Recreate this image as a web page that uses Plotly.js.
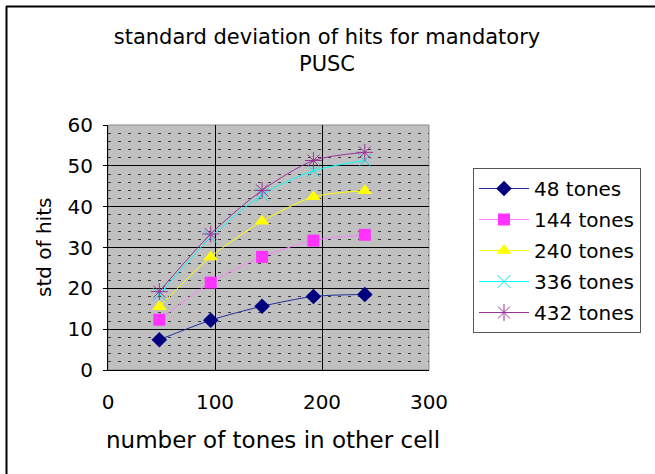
<!DOCTYPE html>
<html>
<head>
<meta charset="utf-8">
<script src="https://cdn.plot.ly/plotly-3.0.1.min.js"></script>
<style>
html,body{margin:0;padding:0;background:#fff;}
#chart{width:655px;height:474px;}
</style>
</head>
<body>
<div id="chart"></div>
<script>
// Data
var otherCellTones = [48, 96, 144, 192, 240];
var seriesNames = ["48 tones", "144 tones", "240 tones", "336 tones", "432 tones"];
var std48  = [7.4, 12.2, 15.6, 18.0, 18.5];
var std144 = [12.3, 21.4, 27.7, 31.7, 33.1];
var std240 = [15.5, 27.7, 36.4, 42.4, 43.9];
var std336 = [18.5, 32.5, 42.9, 48.8, 51.3];
var std432 = [19.2, 33.3, 44.0, 51.3, 53.3];
var xTicks = [0, 100, 200, 300];
var yTicks = [0, 10, 20, 30, 40, 50, 60];

var FONT = "DejaVu Sans, Liberation Sans, sans-serif";

var styles = [
  {line: "#1f2f9a", marker: {symbol: "diamond", size: 12, color: "#000080"}},
  {line: "#ff80ff", marker: {symbol: "square", size: 12, color: "#ff33ff"}},
  {line: "#ffff00", marker: {symbol: "triangle-up", size: 13, color: "#ffff00"}},
  {line: "#00ffff", marker: {symbol: "x-thin-open", size: 13, color: "#00e5e5", line: {width: 1, color: "#00e5e5"}}},
  {line: "#993399", marker: {symbol: "asterisk-open", size: 14, color: "#993399", line: {width: 1, color: "#993399"}}}
];
var values = [std48, std144, std240, std336, std432];

var traces = values.map(function (v, i) {
  return {
    type: "scatter",
    mode: "lines+markers",
    x: otherCellTones,
    y: v,
    name: seriesNames[i],
    legendgroup: "g" + i,
    line: {color: styles[i].line, width: 1, shape: "spline", smoothing: 0.8},
    marker: styles[i].marker
  };
});

// plot area in px: left 108, right 429, top 125, bottom 370
var L = 108, R = 429, T = 125, B = 370;
function px(x) { return (x - L) / (R - L); }
function py(y) { return (B - y) / (B - T); }

var layout = {
  width: 655,
  height: 474,
  margin: {l: L, r: 655 - R, t: T, b: 474 - B, pad: 0, autoexpand: false},
  paper_bgcolor: "#ffffff",
  plot_bgcolor: "#c0c0c0",
  font: {family: FONT, size: 20, color: "#000"},
  showlegend: true,
  title: {
    text: "standard deviation of hits for mandatory<br>PUSC",
    font: {family: FONT, size: 21, color: "#000"},
    x: 327 / 655, xref: "container", xanchor: "center",
    y: 0.907, yref: "container", yanchor: "top"
  },
  xaxis: {
    range: [0, 300],
    tickvals: xTicks,
    showgrid: true, gridcolor: "#000", gridwidth: 1,
    zeroline: false,
    showline: true, linecolor: "#000", linewidth: 1,
    ticks: "", ticklabelstandoff: 14,
    tickfont: {family: FONT, size: 20, color: "#000"},
    fixedrange: true
  },
  yaxis: {
    range: [0, 60],
    tickvals: yTicks,
    showgrid: true, gridcolor: "#000", gridwidth: 1,
    zeroline: false,
    showline: true, linecolor: "#000", linewidth: 1,
    ticks: "outside", ticklen: 4, tickcolor: "#000",
    ticklabelstandoff: 6,
    tickfont: {family: FONT, size: 20, color: "#000"},
    minor: {dtick: 2, showgrid: true, gridcolor: "#3a3a3a", gridwidth: 1, griddash: "3px,7px"},
    fixedrange: true
  },
  legend: {
    x: px(473), y: py(168), xanchor: "left", yanchor: "top",
    xref: "paper", yref: "paper",
    bgcolor: "#fff", bordercolor: "#555", borderwidth: 1,
    itemwidth: 50, tracegroupgap: 2,
    font: {family: FONT, size: 20, color: "#000"}
  },
  annotations: [
    {text: "std of hits", textangle: -90, showarrow: false,
     xref: "paper", yref: "paper", x: px(44), y: py(248), xanchor: "center", yanchor: "middle",
     font: {family: FONT, size: 20, color: "#000"}},
    {text: "number of tones in other cell", showarrow: false,
     xref: "paper", yref: "paper", x: px(273), y: py(440), xanchor: "center", yanchor: "middle",
     font: {family: FONT, size: 23, color: "#000"}}
  ],
  shapes: [
    {type: "rect", xref: "paper", yref: "paper", x0: 0, x1: 1, y0: 0, y1: 1,
     line: {color: "#8a8a8a", width: 1}, layer: "below"},
    {type: "line", xref: "paper", yref: "paper", x0: px(6.5), x1: px(6.5), y0: py(6), y1: py(480),
     line: {color: "#000", width: 2}},
    {type: "line", xref: "paper", yref: "paper", x0: px(6), x1: px(700), y0: py(6.5), y1: py(6.5),
     line: {color: "#000", width: 2}}
  ]
};

Plotly.newPlot("chart", traces, layout, {displayModeBar: false, staticPlot: true});
</script>
</body>
</html>
